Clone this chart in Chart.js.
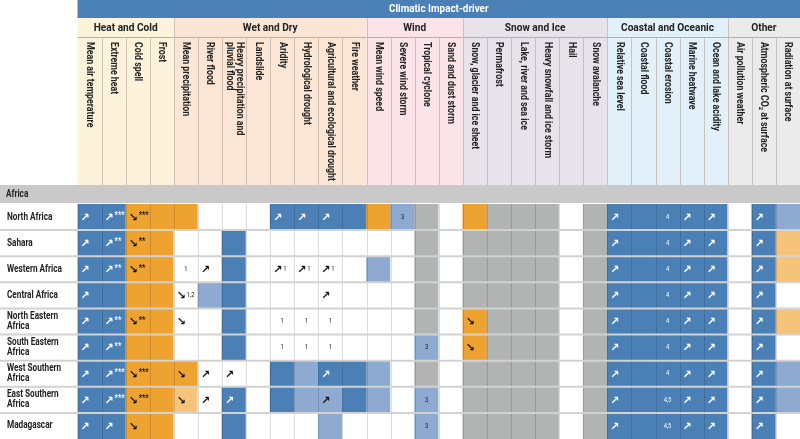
<!DOCTYPE html>
<html>
<head>
<meta charset="utf-8">
<script src="https://cdn.jsdelivr.net/npm/chart.js@4"></script>
<style>
  body { margin: 0; background: #fff; }
  canvas { display: block; }
</style>
</head>
<body>
<canvas id="myChart" width="800" height="439"></canvas>
<script>
// impact-driver columns (label lines)
const columns = [
  ['Mean air temperature'], ['Extreme heat'], ['Cold spell'], ['Frost'],
  ['Mean precipitation'], ['River flood'], ['Heavy precipitation and', 'pluvial flood'], ['Landslide'],
  ['Aridity'], ['Hydrological drought'], ['Agricultural and ecological drought'], ['Fire weather'],
  ['Mean wind speed'], ['Severe wind storm'], ['Tropical cyclone'], ['Sand and dust storm'],
  ['Snow, glacier and ice sheet'], ['Permafrost'], ['Lake, river and sea ice'], ['Heavy snowfall and ice storm'], ['Hail'], ['Snow avalanche'],
  ['Relative sea level'], ['Coastal flood'], ['Coastal erosion'], ['Marine heatwave'], ['Ocean and lake acidity'],
  ['Air pollution weather'], ['Atmospheric CO\u2082 at surface'], ['Radiation at surface']
];
const groups = [
  { name: 'Heat and Cold', from: 0, to: 3, color: '#fdf2da' },
  { name: 'Wet and Dry', from: 4, to: 11, color: '#fbe6d5' },
  { name: 'Wind', from: 12, to: 15, color: '#fbe4e9' },
  { name: 'Snow and Ice', from: 16, to: 21, color: '#e8e2ea' },
  { name: 'Coastal and Oceanic', from: 22, to: 26, color: '#e2f1f9' },
  { name: 'Other', from: 27, to: 29, color: '#ebebeb' }
];
const regions = [
  ['North Africa'], ['Sahara'], ['Western Africa'], ['Central Africa'], ['North Eastern', 'Africa'],
  ['South Eastern', 'Africa'], ['West Southern', 'Africa'], ['East Southern', 'Africa'], ['Madagascar']
];
// cell codes: D dark blue, L light blue, O orange, o light orange, G grey, W white; rest = mark
const northAfrica   = ['D↗','D↗***','O↘***','O','O','W','W','W','D↗','D↗','D↗','D','O','L3','G','W','O','G','G','G','W','G','D↗','D','D4','D↗','D↗','W','D↗','L'];
const sahara        = ['D↗','D↗**','O↘**','O','W','W','D','W','W','W','W','W','W','W','G','W','G','G','G','G','W','G','D↗','D','D4','D↗','D↗','W','D↗','o'];
const westernAfrica = ['D↗','D↗**','O↘**','O','W1','W↗','D','W','W↗1','W↗1','W↗1','W','L','W','G','W','G','G','G','G','W','G','D↗','D','D4','D↗','D↗','W','D↗','o'];
const centralAfrica = ['D↗','D','O','O','W↘1,2','L','D','W','W','W','W↗','W','W','W','G','W','G','G','G','G','W','G','D↗','D','D4','D↗','D↗','W','D↗','W'];
const nEastAfrica   = ['D↗','D↗**','O↘**','O','W↘','W','D','W','W1','W1','W1','W','W','W','G','W','O↘','G','G','G','W','G','D↗','D','D4','D↗','D↗','W','D↗','o'];
const sEastAfrica   = ['D↗','D↗**','O','O','W','W','D','W','W1','W1','W1','W','W','W','L3','W','O↘','G','G','G','W','G','D↗','D','D4','D↗','D↗','W','D↗','W'];
const wSouthAfrica  = ['D↗','D↗***','O↘***','O','O↘','W↗','W↗','W','D','L','D↗','D','L','W','G','W','G','G','G','G','W','G','D↗','D','D4','D↗','D↗','W','D↗','L'];
const eSouthAfrica  = ['D↗','D↗***','O↘***','O','o↘','W↗','D↗','W','D','L','L↗','D','L','W','L3','W','G','G','G','G','W','G','D↗','D','D4,5','D↗','D↗','W','D↗','L'];
const madagascar    = ['D↗','D↗','O↘','O','W','W','D','W','W','W','L','W','W','W','L3','W','G','G','G','G','W','G','D↗','D','D4,5','D↗','D↗','W','D↗','W'];
const cells = [northAfrica, sahara, westernAfrica, centralAfrica, nEastAfrica, sEastAfrica, wSouthAfrica, eSouthAfrica, madagascar];

const palette = { D: '#4b80b6', L: '#8eaad0', O: '#eea22f', o: '#f5c47a', G: '#b2b3b3', W: '#ffffff' };
const FONT = '"Roboto", sans-serif';

const datasets = cells.map((row, r) => ({
  label: regions[r].join(' '),
  data: row.map(() => [r, r + 1]),
  backgroundColor: row.map(c => palette[c[0]]),
  borderWidth: 0,
  grouped: false,
  barPercentage: 1,
  categoryPercentage: 1
}));

// condensed text: draw with a horizontal squeeze
function narrowText(ctx, t, x, y, align, sq) {
  ctx.save();
  ctx.translate(x, y);
  ctx.scale(sq || 0.82, 1);
  ctx.textAlign = align || 'left';
  ctx.fillText(t, 0, 0);
  ctx.restore();
}

const tablePlugin = {
  id: 'table',
  afterDraw(chart) {
    const ctx = chart.ctx, xs = chart.scales.x, ys = chart.scales.y, area = chart.chartArea;
    const w = xs.width / columns.length;
    const left = i => xs.getPixelForValue(i) - w / 2;
    ctx.save();
    ctx.textBaseline = 'middle';
    // header bar
    ctx.fillStyle = '#4b80b6';
    ctx.fillRect(area.left, 0, 800 - area.left, 18);
    ctx.fillStyle = '#fff';
    ctx.font = 'bold 11px ' + FONT;
    narrowText(ctx, 'Climatic Impact-driver', (area.left + 800) / 2, 9.5, 'center', 0.9);
    // groups
    groups.forEach(g => {
      const x0 = left(g.from), x1 = left(g.to) + w;
      ctx.fillStyle = g.color;
      ctx.fillRect(x0, 18, x1 - x0, 167);
      ctx.fillStyle = '#222';
      ctx.font = 'bold 11px ' + FONT;
      narrowText(ctx, g.name, (x0 + x1) / 2, 28, 'center', 0.92);
      ctx.strokeStyle = '#b9b0a6'; ctx.lineWidth = 1;
      ctx.beginPath(); ctx.moveTo(x0, 37.5); ctx.lineTo(x1, 37.5); ctx.stroke();
    });
    // column separators in header
    ctx.strokeStyle = '#c2b8ae'; ctx.lineWidth = 0.8;
    for (let i = 1; i < columns.length; i++) {
      const x = Math.round(left(i)) + 0.5;
      const isGroup = groups.some(g => g.from === i);
      ctx.beginPath(); ctx.moveTo(x, isGroup ? 18 : 37.5); ctx.lineTo(x, 185); ctx.stroke();
    }
    // column labels, reading top to bottom
    ctx.fillStyle = '#222';
    ctx.font = 'bold 10px ' + FONT;
    columns.forEach((lines, i) => {
      const cx = xs.getPixelForValue(i);
      ctx.save();
      ctx.translate(cx, 42);
      ctx.rotate(Math.PI / 2);
      lines.forEach((t, k) => {
        const off = lines.length === 1 ? 0 : (k === 0 ? -5 : 5);
        narrowText(ctx, t, 0, off, 'left', 0.88);
      });
      ctx.restore();
    });
    // Africa band
    ctx.fillStyle = '#c9c9c9';
    ctx.fillRect(0, 185, 800, 18);
    ctx.fillStyle = '#222';
    ctx.font = 'bold 10px ' + FONT;
    narrowText(ctx, 'Africa', 6, 194.5);
    // cell vertical lines
    ctx.strokeStyle = 'rgba(0,0,0,0.18)'; ctx.lineWidth = 0.8;
    for (let i = 0; i <= columns.length; i++) {
      const x = Math.round(left(i)) + 0.5;
      ctx.beginPath(); ctx.moveTo(x, area.top); ctx.lineTo(x, area.bottom); ctx.stroke();
    }
    // row lines + labels
    ctx.strokeStyle = '#d2d2d2'; ctx.lineWidth = 2;
    regions.forEach((lines, r) => {
      const y0 = ys.getPixelForValue(r), y1 = ys.getPixelForValue(r + 1);
      if (r > 0) { ctx.beginPath(); ctx.moveTo(0, y0); ctx.lineTo(800, y0); ctx.stroke(); }
      ctx.fillStyle = '#222';
      ctx.font = 'bold 10px ' + FONT;
      const cy = (y0 + y1) / 2;
      lines.forEach((t, k) => {
        const off = lines.length === 1 ? 0 : (k === 0 ? -5 : 5);
        narrowText(ctx, t, 7, cy + off);
      });
      // cell marks
      cells[r].forEach((code, i) => {
        let mark = code.slice(1);
        if (!mark) return;
        const x0 = left(i);
        ctx.fillStyle = code[0] === 'D' ? '#fff' : '#111';
        let arrow = '';
        if (mark[0] === '↗' || mark[0] === '↘') { arrow = mark[0]; mark = mark.slice(1); }
        if (arrow) {
          ctx.font = 'bold 11px "DejaVu Sans", sans-serif';
          ctx.textAlign = 'left';
          ctx.fillText(arrow, x0 + 3, cy + 1);
          if (mark) {
            const stars = mark[0] === '*';
            ctx.font = (stars ? 'bold 9px ' : '7px ') + FONT;
            narrowText(ctx, mark, x0 + 13, stars ? cy - 1 : cy);
          }
        } else {
          ctx.font = '7px ' + FONT;
          narrowText(ctx, mark, x0 + w / 2, cy, 'center');
        }
      });
    });
    ctx.restore();
  }
};

const myChart = new Chart(document.getElementById('myChart'), {
  type: 'bar',
  data: { labels: columns.map(c => c.join(' ')), datasets: datasets },
  options: {
    responsive: false,
    animation: false,
    layout: { padding: { left: 77.5, right: 0, top: 204, bottom: 0 } },
    scales: {
      x: { display: false, offset: true },
      y: { display: false, min: 0, max: 9, reverse: true }
    },
    plugins: { legend: { display: false }, tooltip: { enabled: false } }
  },
  plugins: [tablePlugin]
});
</script>
</body>
</html>
